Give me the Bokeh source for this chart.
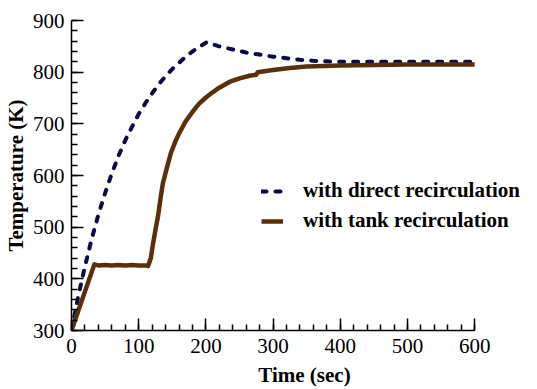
from bokeh.plotting import figure
from bokeh.models import SingleIntervalTicker, Range1d, Legend, LegendItem
from bokeh.embed import file_html
from bokeh.resources import INLINE

# with direct recirculation
direct_t = [0, 10, 20, 30, 40, 50, 60, 70, 80, 90, 100, 110, 120, 130, 140, 150,
            160, 170, 180, 190, 200, 202, 210, 220, 230, 240, 250, 260, 280, 300,
            320, 340, 360, 380, 400, 450, 500, 550, 600]
direct_T = [300, 366, 424, 477, 524, 566, 604, 638, 668, 694, 719, 740, 759, 777, 792, 806,
            818, 830, 840, 849, 857, 858, 854, 850, 847, 844, 841, 838, 834, 830,
            827, 824, 822, 821, 820, 820, 820, 820, 820]

# with tank recirculation
tank_t = [0, 34, 40, 50, 60, 70, 80, 90, 100, 110, 114, 118, 121, 125, 129, 133, 136,
          140, 148, 155, 160, 170, 180, 190, 200, 210, 220, 235, 250, 265, 275, 277,
          300, 325, 350, 400, 450, 500, 550, 600]
tank_T = [300, 428, 426, 427, 426, 427, 426, 427, 426, 426, 425, 440, 465, 495, 523, 560, 585,
          605, 644, 667, 681, 705, 723, 739, 751, 761, 770, 781, 788, 793, 795, 800,
          804, 808, 811, 813, 814, 815, 815, 815]

serif = "Liberation Serif"

# frame spans x 70..537 px; the axis itself is bounded to 0..600 (70..474 px)
x_end = 600 * 467 / 404

p = figure(width=537, height=389, output_backend="svg", toolbar_location=None,
           x_range=Range1d(0, x_end), y_range=Range1d(300, 900),
           min_border_left=70, min_border_right=0, min_border_top=20, min_border_bottom=56)
p.outline_line_color = None
p.xgrid.visible = False
p.ygrid.visible = False

r1 = p.line(direct_t, direct_T, line_color="#0b0b48", line_width=4,
            line_dash="5 9", line_cap="round")
r2 = p.line(tank_t, tank_T, line_color="#5a2f0a", line_width=4.5, line_join="round")

for ax, lab in ((p.xaxis[0], "Time (sec)"), (p.yaxis[0], "Temperature (K)")):
    ax.ticker = SingleIntervalTicker(interval=100, num_minor_ticks=5)
    ax.axis_label = lab
    ax.axis_label_text_font = serif
    ax.axis_label_text_font_style = "bold"
    ax.axis_label_text_font_size = "21px"
    ax.axis_label_text_color = "black"
    ax.major_label_text_font = serif
    ax.major_label_text_font_size = "21px"
    ax.major_label_text_color = "black"
    ax.axis_line_width = 1.5
    ax.axis_line_color = "black"
    ax.major_tick_in = 12
    ax.major_tick_out = 0
    ax.minor_tick_in = 6
    ax.minor_tick_out = 0
    ax.major_tick_line_width = 1.5
    ax.minor_tick_line_width = 1.5
    ax.major_tick_line_color = "black"
    ax.minor_tick_line_color = "black"
    ax.major_label_standoff = 7
    ax.axis_label_standoff = 2

p.xaxis[0].bounds = (0, 600)
p.xaxis[0].major_label_standoff = 8
p.xaxis[0].axis_label_standoff = 7

legend = Legend(items=[LegendItem(label="with direct recirculation", renderers=[r1]),
                       LegendItem(label="with tank recirculation", renderers=[r2])],
                location=(190, 97), padding=0, margin=0, spacing=5,
                glyph_width=22, glyph_height=20, label_height=20, label_standoff=20,
                border_line_color=None, background_fill_alpha=0,
                label_text_font=serif, label_text_font_style="bold",
                label_text_font_size="21px", label_text_color="black")
p.add_layout(legend, "center")

open("out.html", "w").write(file_html(p, INLINE))
